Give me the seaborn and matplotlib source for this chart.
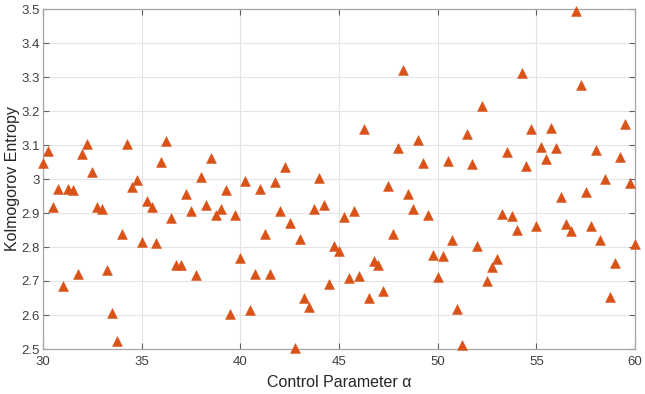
import pandas as pd
import matplotlib
matplotlib.use('Agg')
import matplotlib.pyplot as plt
import seaborn as sns
from matplotlib.ticker import FuncFormatter

# Control parameter values (x axis)
alpha = [30.00, 30.25, 30.50, 30.75, 31.00, 31.25, 31.50, 31.75, 32.00, 32.25,
         32.50, 32.75, 33.00, 33.25, 33.50, 33.75, 34.00, 34.25, 34.50, 34.75,
         35.00, 35.25, 35.50, 35.75, 36.00, 36.25, 36.50, 36.75, 37.00, 37.25,
         37.50, 37.75, 38.00, 38.25, 38.50, 38.75, 39.00, 39.25, 39.50, 39.75,
         40.00, 40.25, 40.50, 40.75, 41.00, 41.25, 41.50, 41.75, 42.00, 42.25,
         42.50, 42.75, 43.00, 43.25, 43.50, 43.75, 44.00, 44.25, 44.50, 44.75,
         45.00, 45.25, 45.50, 45.75, 46.00, 46.25, 46.50, 46.75, 47.00, 47.25,
         47.50, 47.75, 48.00, 48.25, 48.50, 48.75, 49.00, 49.25, 49.50, 49.75,
         50.00, 50.25, 50.50, 50.75, 51.00, 51.25, 51.50, 51.75, 52.00, 52.25,
         52.50, 52.75, 53.00, 53.25, 53.50, 53.75, 54.00, 54.25, 54.50, 54.75,
         55.00, 55.25, 55.50, 55.75, 56.00, 56.25, 56.50, 56.75, 57.00, 57.25,
         57.50, 57.75, 58.00, 58.25, 58.50, 58.75, 59.00, 59.25, 59.50, 59.75,
         60.00]

# Kolmogorov entropy
entropy = [3.046, 3.083, 2.919, 2.971, 2.686, 2.971, 2.968, 2.722, 3.073, 3.103,
           3.021, 2.917, 2.911, 2.732, 2.605, 2.525, 2.838, 3.102, 2.976, 2.997,
           2.816, 2.935, 2.917, 2.811, 3.050, 3.113, 2.886, 2.746, 2.746, 2.957,
           2.907, 2.718, 3.007, 2.924, 3.062, 2.893, 2.911, 2.968, 2.603, 2.894,
           2.769, 2.995, 2.616, 2.721, 2.971, 2.837, 2.721, 2.991, 2.905, 3.034,
           2.870, 2.502, 2.823, 2.651, 2.624, 2.912, 3.002, 2.925, 2.690, 2.803,
           2.789, 2.889, 2.710, 2.905, 2.714, 3.147, 2.651, 2.758, 2.747, 2.671,
           2.979, 2.837, 3.090, 3.320, 2.956, 2.913, 3.115, 3.048, 2.893, 2.777,
           2.711, 2.775, 3.054, 2.822, 2.619, 2.512, 3.131, 3.045, 2.803, 3.215,
           2.700, 2.742, 2.766, 2.897, 3.078, 2.891, 2.850, 3.313, 3.039, 3.148,
           2.862, 3.095, 3.058, 3.151, 3.092, 2.946, 2.867, 2.848, 3.494, 3.277,
           2.961, 2.862, 3.085, 2.821, 2.999, 2.652, 2.753, 3.065, 3.163, 2.988,
           2.809]

x_ticks = [30, 35, 40, 45, 50, 55, 60]
y_ticks = [2.5, 2.6, 2.7, 2.8, 2.9, 3.0, 3.1, 3.2, 3.3, 3.4, 3.5]

df = pd.DataFrame({'alpha': alpha, 'entropy': entropy})

sns.set_style('white')
plt.rcParams['font.family'] = ['Liberation Sans', 'DejaVu Sans']

fig = plt.figure(figsize=(6.45, 3.94), dpi=100)
ax = fig.add_axes([43 / 645, 1 - 349 / 394, 592 / 645, 340 / 394])

sns.scatterplot(data=df, x='alpha', y='entropy', marker='^', s=50,
                color='#D95319', edgecolor='#D95319', linewidth=0.4,
                ax=ax, zorder=3, clip_on=False)

ax.set_xlim(30, 60)
ax.set_ylim(2.5, 3.5)
ax.set_xticks(x_ticks)
ax.set_yticks(y_ticks)
ax.yaxis.set_major_formatter(FuncFormatter(lambda v, p: f'{v:g}'))

ax.grid(True, color='#e4e4e4', linewidth=0.8)
ax.set_axisbelow(True)
for side in ax.spines.values():
    side.set_color('#a6a6a6')
    side.set_linewidth(0.9)

ax.tick_params(direction='in', length=4, width=0.8, color='#606060',
               labelcolor='#404040', labelsize=9.5,
               top=True, right=True, bottom=True, left=True)
ax.tick_params(axis='x', pad=5)
ax.tick_params(axis='y', pad=2.5)

ax.set_xlabel('Control Parameter α', fontsize=11.5, color='#262626', labelpad=5)
ax.set_ylabel('Kolmogorov Entropy', fontsize=11.5, color='#262626', labelpad=1)

fig.savefig('out.png', dpi=100)
